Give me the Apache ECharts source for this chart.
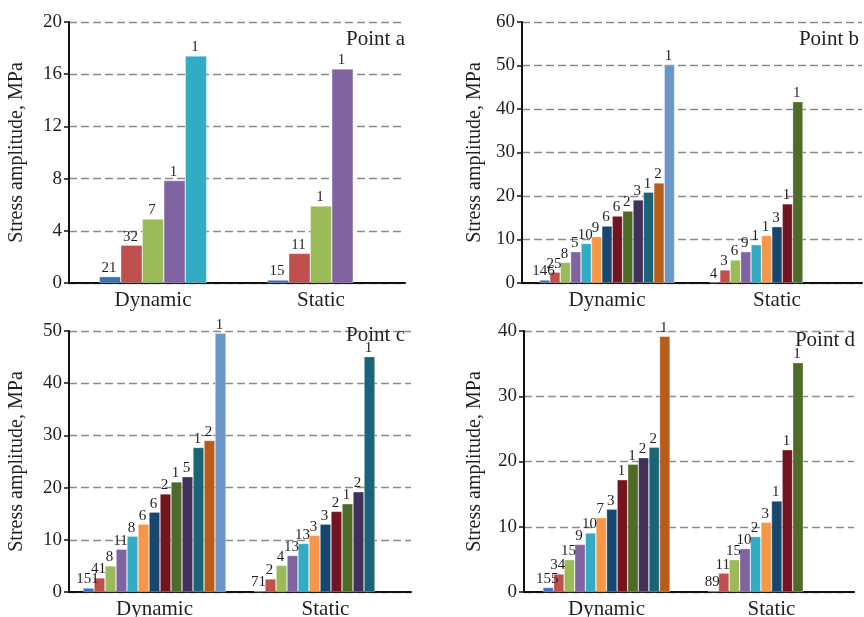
<!DOCTYPE html>
<html>
<head>
<meta charset="utf-8">
<script src="https://cdn.jsdelivr.net/npm/echarts@6/dist/echarts.min.js"></script>
<style>
  html, body { margin: 0; padding: 0; background: #fff; }
  #main { width: 864px; height: 617px; }
</style>
</head>
<body>
<div id="main"></div>
<script>
var categories = ['Dynamic', 'Static'];

// colours of the series, same order in every panel
var colors = ['#3b71b6', '#c0504d', '#9bbb59', '#8064a2', '#31acc4', '#f79646',
  '#17476f', '#731520', '#4f6b28', '#40305a', '#1b6477', '#b85d19', '#6a96c8'];

// Point a
var aDynamic = [0.49, 2.9, 4.9, 7.85, 17.4];
var aStatic = [0.23, 2.27, 5.9, 16.4];
var aDynLabels = ['21', '32', '7', '1', '1'];
var aStaLabels = ['15', '11', '1', '1'];

// Point b
var bDynamic = [0.7, 2.5, 4.75, 7.2, 9.1, 10.65, 13.1, 15.4, 16.55, 19.1, 20.9, 23.0, 50.2];
var bStatic = [0.15, 3.0, 5.3, 7.2, 8.8, 10.9, 12.95, 18.2, 41.7];
var bDynLabels = ['146', '25', '8', '5', '10', '9', '6', '6', '2', '3', '1', '2', '1'];
var bStaLabels = ['4', '3', '6', '9', '1', '1', '3', '1', '1'];

// Point c
var cDynamic = [0.77, 2.7, 5.0, 8.2, 10.7, 13.0, 15.3, 18.8, 21.1, 22.1, 27.7, 29.05, 49.6];
var cStatic = [0.25, 2.5, 5.1, 7.0, 9.3, 10.85, 13.0, 15.45, 16.9, 19.2, 45.1];
var cDynLabels = ['151', '41', '8', '11', '8', '6', '6', '2', '1', '5', '1', '2', '1'];
var cStaLabels = ['71', '2', '4', '13', '13', '3', '3', '2', '1', '2', '1'];

// Point d
var dDynamic = [0.7, 2.76, 4.95, 7.3, 9.05, 11.4, 12.7, 17.2, 19.6, 20.6, 22.2, 39.2];
var dStatic = [0.15, 2.9, 4.95, 6.65, 8.5, 10.7, 13.95, 21.8, 35.15];
var dDynLabels = ['155', '34', '15', '9', '10', '7', '3', '1', '1', '2', '2', '1'];
var dStaLabels = ['89', '11', '15', '10', '2', '3', '1', '1', '1'];

var font = 'Liberation Serif';
var txt = '#231f20';

var chart = echarts.init(document.getElementById('main'));

var panels = [
  { name: 'Point a', dyn: aDynamic, sta: aStatic, dl: aDynLabels, sl: aStaLabels, max: 20, step: 4,
    grid: { left: 69, top: 22, width: 336, height: 261 }, gap: 42, bw: 21.5, title: { right: 459, top: 29 } },
  { name: 'Point b', dyn: bDynamic, sta: bStatic, dl: bDynLabels, sl: bStaLabels, max: 60, step: 10,
    grid: { left: 522, top: 22, width: 340, height: 261 }, gap: 37, bw: 10.4, title: { right: 5, top: 29 } },
  { name: 'Point c', dyn: cDynamic, sta: cStatic, dl: cDynLabels, sl: cStaLabels, max: 50, step: 10,
    grid: { left: 69, top: 331, width: 342, height: 261 }, gap: 42, bw: 11, title: { right: 459, top: 325 } },
  { name: 'Point d', dyn: dDynamic, sta: dStatic, dl: dDynLabels, sl: dStaLabels, max: 40, step: 10,
    grid: { left: 524, top: 331, width: 330, height: 261 }, gap: 39, bw: 10.6, title: { right: 9, top: 330 } }
];

var grids = [], xAxes = [], yAxes = [], series = [], titles = [];

panels.forEach(function (p, k) {
  p.grid.outerBoundsMode = 'none';
  p.grid.containLabel = false;
  grids.push(p.grid);
  titles.push({
    text: p.name, right: p.title.right, top: p.title.top, padding: 0,
    textStyle: { fontFamily: font, fontSize: 21, fontWeight: 'normal', color: txt }
  });
  xAxes.push({
    type: 'category', gridIndex: k, data: categories,
    axisLine: { lineStyle: { color: '#111', width: 2 } },
    axisTick: { show: false },
    axisLabel: { fontFamily: font, fontSize: 21, color: txt, margin: 7 }
  });
  yAxes.push({
    type: 'value', gridIndex: k, min: 0, max: p.max, interval: p.step,
    name: 'Stress amplitude, MPa', nameLocation: 'middle', nameGap: p.gap,
    nameTextStyle: { fontFamily: font, fontSize: 20, color: txt },
    axisLine: { show: true, lineStyle: { color: '#111', width: 2 } },
    axisTick: { show: true, length: 5, lineStyle: { color: '#111', width: 1.5 } },
    axisLabel: { fontFamily: font, fontSize: 19, color: txt, margin: 7 },
    splitLine: { lineStyle: { color: '#8a8a8a', width: 1.3, type: [8, 4] } }
  });
  var n = Math.max(p.dyn.length, p.sta.length);
  for (var i = 0; i < n; i++) {
    (function (i) {
      var labs = [p.dl[i], p.sl[i]];
      series.push({
        type: 'bar', xAxisIndex: k, yAxisIndex: k,
        barWidth: p.bw, barGap: '0%',
        data: [p.dyn[i] === undefined ? null : p.dyn[i], p.sta[i] === undefined ? null : p.sta[i]],
        itemStyle: { color: colors[i], borderColor: 'rgba(255,255,255,0.55)', borderWidth: 0.6 },
        label: {
          show: true, position: 'top', distance: 1, offset: [-1, 0],
          fontFamily: font, fontSize: 15, color: txt,
          formatter: function (q) { return labs[q.dataIndex] || ''; }
        },
        silent: true
      });
    })(i);
  }
});

chart.setOption({
  animation: false,
  title: titles,
  grid: grids,
  xAxis: xAxes,
  yAxis: yAxes,
  series: series
});
</script>
</body>
</html>
